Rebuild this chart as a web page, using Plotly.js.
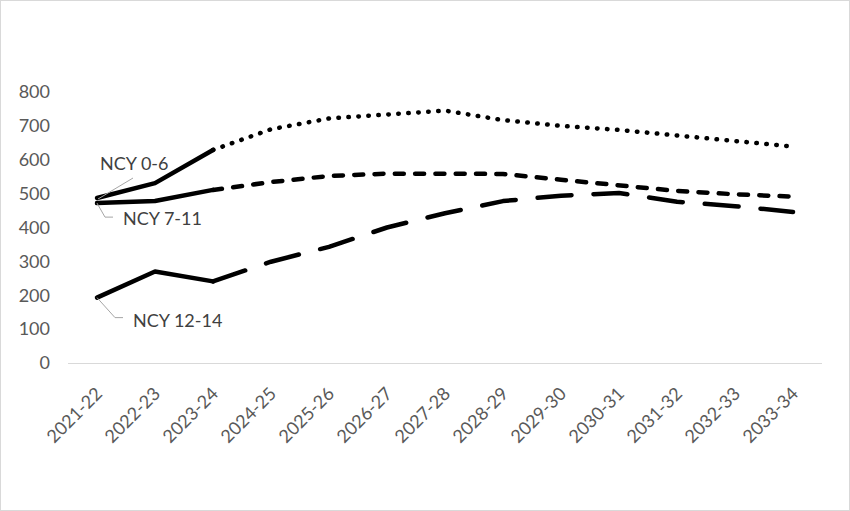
<!DOCTYPE html>
<html>
<head>
<meta charset="utf-8">
<script src="https://cdn.plot.ly/plotly-3.0.1.min.js"></script>
<style>
  html, body { margin: 0; padding: 0; background: #fff; }
  #wrap { position: relative; width: 850px; height: 511px; }
  #chart { width: 850px; height: 511px; }
  #frame { position: absolute; left: 0; top: 0; width: 850px; height: 511px; box-sizing: border-box; border: 1px solid #d9d9d9; pointer-events: none; }
  .js-line { stroke-linecap: round !important; stroke-linejoin: round !important; }
</style>
</head>
<body>
<div id="wrap"><div id="chart"></div><div id="frame"></div></div>
<script>
// Categories (school years)
const years = ["2021-22","2022-23","2023-24","2024-25","2025-26","2026-27","2027-28",
               "2028-29","2029-30","2030-31","2031-32","2032-33","2033-34"];
// Series values (actual for first three years, projected afterwards)
const ncy0to6   = [487, 531, 629, 690, 722, 735, 745, 717, 700, 688, 671, 653, 639];
const ncy7to11  = [472, 478, 511, 534, 552, 559, 559, 558, 541, 523, 508, 498, 491];
const ncy12to14 = [193, 270, 241, 299, 343, 400, 442, 478, 494, 502, 476, 463, 446];
const seriesNames = ["NCY 0-6", "NCY 7-11", "NCY 12-14"];
const yTicks = [0, 100, 200, 300, 400, 500, 600, 700, 800];
const actualCount = 3;

const W = 4.5;
function actual(vals) {
  return { x: years.slice(0, actualCount), y: vals.slice(0, actualCount), type: 'scatter', mode: 'lines',
           line: { color: '#000000', width: W }, showlegend: false, hoverinfo: 'skip' };
}
function projected(vals, dash) {
  return { x: years.slice(actualCount - 1), y: vals.slice(actualCount - 1), type: 'scatter', mode: 'lines',
           line: { color: '#000000', width: W, dash: dash }, showlegend: false, hoverinfo: 'skip' };
}

const data = [
  actual(ncy0to6),   projected(ncy0to6, '0.5px,9.5px'),
  actual(ncy7to11),  projected(ncy7to11, '9px,11.3px'),
  actual(ncy12to14), projected(ncy12to14, '34px,22px')
];

const lblFont = { family: 'Lato, "Open Sans", sans-serif', size: 18, color: '#404040' };
function label(text, vals, xs, ys) {
  return { x: years[0], y: vals[0], xref: 'x', yref: 'y', text: text, showarrow: false,
           xanchor: 'left', yanchor: 'middle', xshift: xs, yshift: ys, borderpad: 0, font: lblFont };
}
function leader(vals, path) {
  return { type: 'path', xref: 'x', yref: 'y', xsizemode: 'pixel', ysizemode: 'pixel',
           xanchor: years[0], yanchor: vals[0], path: path,
           line: { color: '#a6a6a6', width: 1 } };
}

const layout = {
  width: 850, height: 511,
  margin: { l: 68, r: 28, t: 92, b: 148 },
  paper_bgcolor: '#ffffff', plot_bgcolor: '#ffffff',
  font: { family: 'Lato, "Open Sans", sans-serif', size: 18, color: '#595959' },
  showlegend: false,
  hovermode: false,
  xaxis: {
    type: 'category', range: [-0.5, years.length - 0.5],
    showgrid: false, zeroline: false, showline: true, linecolor: '#d9d9d9', linewidth: 1,
    ticks: '', tickangle: -45, ticklabelstandoff: 12,
    tickfont: { family: 'Lato, "Open Sans", sans-serif', size: 18, color: '#595959' }
  },
  yaxis: {
    range: [0, 800], tickvals: yTicks, ticktext: yTicks.map(String),
    showgrid: false, zeroline: false, showline: false, ticks: '', ticklabelstandoff: 17,
    tickfont: { family: 'Lato, "Open Sans", sans-serif', size: 18, color: '#595959' }
  },
  annotations: [
    label(seriesNames[0], ncy0to6, 2, 35),
    label(seriesNames[1], ncy7to11, 25, -15),
    label(seriesNames[2], ncy12to14, 35, -22)
  ],
  shapes: [
    leader(ncy0to6, 'M1,-1 L36,20'),
    leader(ncy7to11, 'M0,0 L8,-14 L16,-14'),
    leader(ncy12to14, 'M0,0 L18,-20 L26,-20')
  ]
};

Plotly.newPlot('chart', data, layout, { staticPlot: true, displayModeBar: false });
</script>
</body>
</html>
